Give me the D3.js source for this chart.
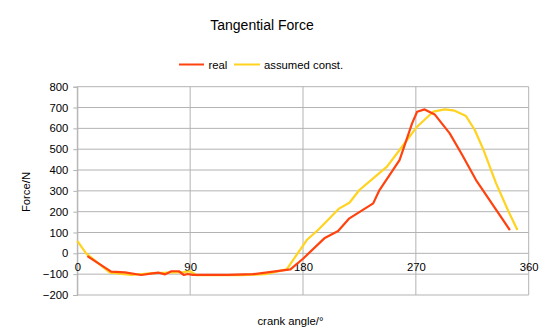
<!DOCTYPE html>
<html>
<head>
<meta charset="utf-8">
<script src="https://cdn.jsdelivr.net/npm/d3@7"></script>
<style>
  html, body { margin: 0; padding: 0; background: #fff; }
  svg { display: block; font-family: "Liberation Sans", Arial, sans-serif; }
</style>
</head>
<body>
<svg id="chart" width="550" height="335"></svg>
<script>
// Crank angle (°) and tangential force (N) for each series
const realAngle = [8, 27, 38, 51, 60, 65, 70, 75, 81, 85, 88, 92, 120, 140, 170, 180, 197, 208, 217, 236, 241, 257, 267, 271, 277, 285, 297, 307, 318, 345];
const realForce = [-13, -88, -91, -104, -96, -93, -101, -86, -86, -104, -99, -103, -103, -100, -77, -26, 72, 107, 168, 240, 304, 448, 624, 680, 691, 667, 576, 472, 352, 112];

const constAngle = [0, 7, 26, 43, 60, 75, 85, 90, 95, 130, 150, 167, 183, 192, 209, 217, 225, 235, 247, 257, 271, 281, 284, 293, 301, 310, 317, 324, 334, 344, 351];
const constForce = [60, 0, -93, -104, -95, -92, -90, -86, -105, -105, -100, -77, 64, 112, 216, 243, 304, 355, 416, 496, 608, 664, 680, 691, 685, 659, 592, 496, 336, 200, 112];

const xTicks = [0, 90, 180, 270, 360];
const yTicks = [-200, -100, 0, 100, 200, 300, 400, 500, 600, 700, 800];

const seriesNames = ["real", "assumed const."];
const seriesColors = ["#ff420e", "#ffd320"];

const svg = d3.select("#chart");
const plot = { left: 77.3, right: 528.7, top: 86.7, bottom: 295 };
const small = 11.3;

const x = d3.scaleLinear().domain([0, 360]).range([plot.left, plot.right]);
const y = d3.scaleLinear().domain([-200, 800]).range([plot.bottom, plot.top]);

const gridColor = "#b3b3b3";

// Horizontal grid lines
svg.append("g").selectAll("line").data(yTicks).join("line")
  .attr("x1", plot.left).attr("x2", plot.right)
  .attr("y1", d => y(d)).attr("y2", d => y(d))
  .attr("stroke", gridColor).attr("stroke-width", 1);

// Vertical grid lines
svg.append("g").selectAll("line").data(xTicks).join("line")
  .attr("x1", d => x(d)).attr("x2", d => x(d))
  .attr("y1", plot.top).attr("y2", plot.bottom)
  .attr("stroke", gridColor).attr("stroke-width", 1);

// Y axis with small outer ticks
const yAxis = d3.axisLeft(y).tickValues(yTicks).tickSize(4).tickPadding(5);
const gy = svg.append("g").attr("transform", `translate(${plot.left},0)`).call(yAxis);
gy.select(".domain").attr("stroke", gridColor);
gy.selectAll(".tick line").attr("stroke", gridColor);
gy.selectAll(".tick text").attr("font-size", small).attr("fill", "#000")
  .attr("font-family", "Liberation Sans, Arial, sans-serif");

// X axis sits on the zero line, labels just below it
const xAxis = d3.axisBottom(x).tickValues(xTicks).tickSize(0).tickPadding(10);
const gx = svg.append("g").attr("transform", `translate(0,${y(0)})`).call(xAxis);
gx.select(".domain").remove();
gx.selectAll(".tick text").attr("font-size", small).attr("fill", "#000")
  .attr("font-family", "Liberation Sans, Arial, sans-serif");

// Series lines
const line = d3.line().x(d => x(d[0])).y(d => y(d[1]));
const constData = d3.zip(constAngle, constForce);
const realData = d3.zip(realAngle, realForce);

svg.append("path").datum(constData).attr("d", line)
  .attr("fill", "none").attr("stroke", seriesColors[1]).attr("stroke-width", 2.2)
  .attr("stroke-linejoin", "round");
svg.append("path").datum(realData).attr("d", line)
  .attr("fill", "none").attr("stroke", seriesColors[0]).attr("stroke-width", 2.2)
  .attr("stroke-linejoin", "round");

// Title
svg.append("text").attr("x", 262).attr("y", 29.5).attr("text-anchor", "middle")
  .attr("font-size", 14).attr("fill", "#000").text("Tangential Force");

// Legend
const legend = [
  { name: seriesNames[0], color: seriesColors[0], x0: 179, x1: 204, tx: 208.5 },
  { name: seriesNames[1], color: seriesColors[1], x0: 234, x1: 260, tx: 264 }
];
const lg = svg.append("g");
legend.forEach(l => {
  lg.append("line").attr("x1", l.x0).attr("x2", l.x1).attr("y1", 64.5).attr("y2", 64.5)
    .attr("stroke", l.color).attr("stroke-width", 2);
  lg.append("text").attr("x", l.tx).attr("y", 69).attr("font-size", small)
    .attr("fill", "#000").text(l.name);
});

// Axis titles
svg.append("text").attr("x", 290.5).attr("y", 324.5).attr("text-anchor", "middle")
  .attr("font-size", small).attr("fill", "#000").text("crank angle/°");
svg.append("text").attr("transform", "translate(30,192) rotate(-90)")
  .attr("text-anchor", "middle").attr("font-size", small).attr("fill", "#000").text("Force/N");
</script>
</body>
</html>
